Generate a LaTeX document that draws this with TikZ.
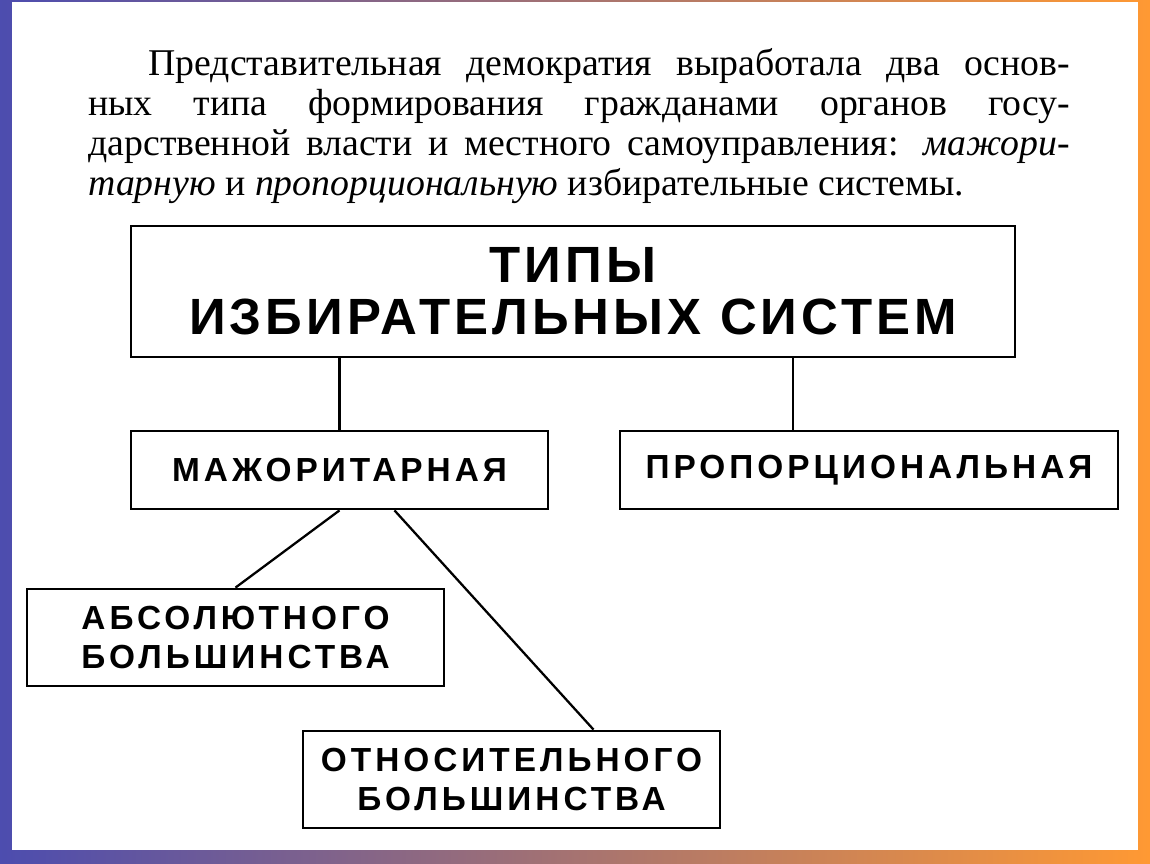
\documentclass[tikz,border=0pt]{standalone}
\usepackage{fontspec}
\setmainfont{Liberation Serif}
\newfontfamily\boxfont[LetterSpace=12]{Liberation Sans Bold}
\newfontfamily\titlefont[LetterSpace=8]{Liberation Sans Bold}
\usetikzlibrary{calc}
\tikzset{
  box/.style={draw, line width=1.6pt, fill=white, inner sep=0pt, align=center, font=\boxfont\fontsize{19}{22.7}\selectfont},
  link/.style={line width=1.3pt}
}
\begin{document}
\begin{tikzpicture}[x=0.02cm,y=-0.02cm]
\useasboundingbox (0,0) rectangle (1150,864);
% frame
\shade[left color=blue!55!black!70, right color=orange!80] (0,0) rectangle (1150,864);
\fill[white] (12,2) rectangle (1138,850);
% text
\node[anchor=north west, text width=19.64cm, align=justify, inner sep=0pt,
      font=\fontsize{21.5}{22.7}\selectfont] (txt) at (88,48)
  {\hspace*{1.2cm}Представительная демократия выработала два основ-\linebreak
   ных типа формирования гражданами органов госу-\linebreak
   дарственной власти и местного самоуправления: \textit{мажори-\linebreak
   тарную} и \textit{пропорциональную} избирательные системы.};
% boxes
\node[box, minimum width=884*0.02cm, minimum height=131*0.02cm,
      font=\titlefont\fontsize{29}{29.5}\selectfont] (types) at (573,291.5)
  {ТИПЫ\\ИЗБИРАТЕЛЬНЫХ СИСТЕМ};
\node[box, minimum width=417*0.02cm, minimum height=78*0.02cm] (maj) at (339.5,470) {МАЖОРИТАРНАЯ};
\node[box, minimum width=498*0.02cm, minimum height=78*0.02cm] (prop) at (869,470) {ПРОПОРЦИОНАЛЬНАЯ};
\node[box, minimum width=417*0.02cm, minimum height=97*0.02cm] (abs) at (235.5,637.5) {АБСОЛЮТНОГО\\БОЛЬШИНСТВА};
\node[box, minimum width=417*0.02cm, minimum height=97*0.02cm] (rel) at (511.5,779.5) {ОТНОСИТЕЛЬНОГО\\БОЛЬШИНСТВА};
% links
\draw[link] (types.south -| maj.north) -- (maj.north);
\draw[link] ([xshift=-76*0.02cm]types.south -| prop.north) -- ([xshift=-76*0.02cm]prop.north);
\draw[link] (maj.south) -- (abs.north);
\draw[link] ([xshift=55*0.02cm]maj.south) -- ([xshift=82*0.02cm]rel.north);
\end{tikzpicture}
\end{document}
